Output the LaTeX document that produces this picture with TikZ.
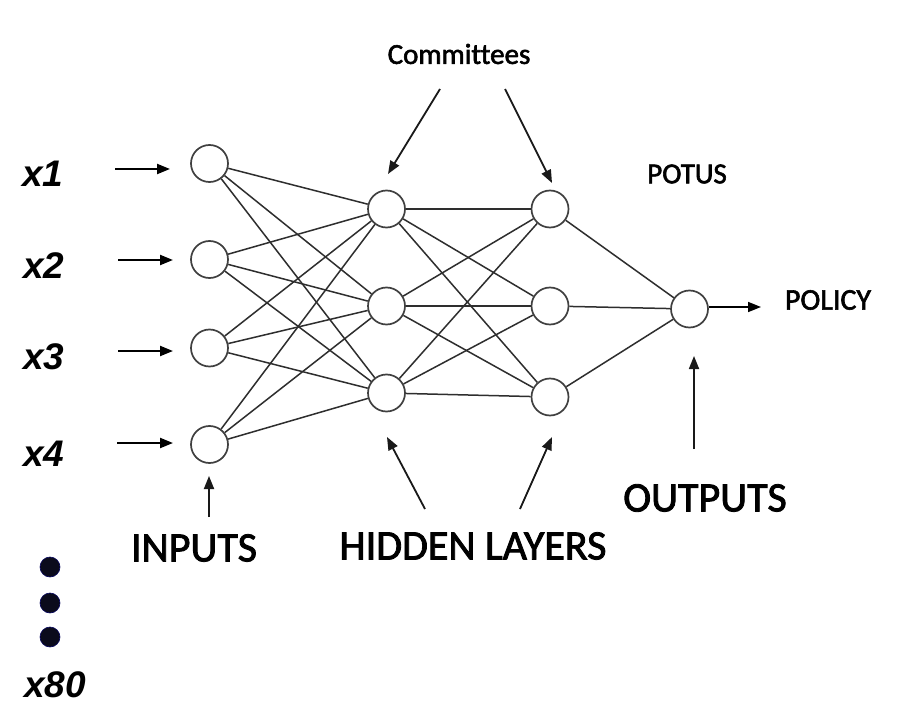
\documentclass[tikz,border=0pt]{standalone}
\usepackage{fontspec}
\setmainfont[Ligatures={NoCommon},FakeBold=2]{Carlito}
\newfontfamily\xfont{Liberation Sans}
\usetikzlibrary{arrows.meta}
\definecolor{dotnavy}{HTML}{0B0B1C}
\begin{document}
\begin{tikzpicture}[x=1pt,y=-1pt,
  neuron/.style={circle,draw=black!75,line width=1.7pt,minimum size=37pt,inner sep=0pt,fill=white},
  edge/.style={draw=black!82,line width=1.5pt},
  pointer/.style={draw=black,line width=2.2pt,-{Triangle[length=13pt,width=10pt]}},
  thinpointer/.style={draw=black!90,line width=1.8pt,-{Triangle[length=13pt,width=10pt]}},
  xlab/.style={font=\xfont\bfseries\itshape\fontsize{37}{44}\selectfont,inner sep=0pt},
  smalllab/.style={font=\fontsize{29}{34}\selectfont,inner sep=0pt},
  biglab/.style={font=\fontsize{42}{50}\selectfont,inner sep=0pt},
  bigdot/.style={circle,fill=dotnavy,draw=dotnavy!70!blue,line width=0.6pt,minimum size=20pt,inner sep=0pt}
]
\useasboundingbox (0,0) rectangle (907,719);
\fill[white] (0,0) rectangle (907,719);

% neurons
\node[neuron] (i1) at (209.5,163.5) {};
\node[neuron] (i2) at (209.5,259.5) {};
\node[neuron] (i3) at (209.5,348) {};
\node[neuron] (i4) at (209.5,444.5) {};
\node[neuron] (h1) at (386.5,209) {};
\node[neuron] (h2) at (386.5,306) {};
\node[neuron] (h3) at (386.5,393) {};
\node[neuron] (g1) at (550,209) {};
\node[neuron] (g2) at (550,306) {};
\node[neuron] (g3) at (550,397) {};
\node[neuron] (o) at (689.5,309) {};

% connections
\foreach \a in {i1,i2,i3,i4}{
  \foreach \b in {h1,h2,h3}{\draw[edge] (\a) -- (\b);}}
\foreach \a in {h1,h2,h3}{
  \foreach \b in {g1,g2,g3}{\draw[edge] (\a) -- (\b);}}
\foreach \a in {g1,g2,g3}{\draw[edge] (\a) -- (o);}

% input labels
\node[xlab] (x1) at (43,174) {x1};
\node[xlab] (x2) at (44,266) {x2};
\node[xlab] (x3) at (44,357) {x3};
\node[xlab] (x4) at (44,454) {x4};
\node[xlab] (x80) at (55,685) {x80};

% input arrows
\coordinate (s1) at (115,169); \coordinate (e1) at (170,169);
\coordinate (s2) at (118,260); \coordinate (e2) at (173,260);
\coordinate (s3) at (118,351); \coordinate (e3) at (173,351);
\coordinate (s4) at (117,443); \coordinate (e4) at (173,443);
\draw[pointer] (s1) -- (e1);
\draw[pointer] (s2) -- (e2);
\draw[pointer] (s3) -- (e3);
\draw[pointer] (s4) -- (e4);

% dots
\node[bigdot] (d1) at (50,567) {};
\node[bigdot] (d2) at (50,603) {};
\node[bigdot] (d3) at (50,637) {};

% labels
\node[smalllab] (comm) at (459,54) {Committees};
\node[smalllab] (potus) at (687,174) {POTUS};
\node[font=\fontsize{30}{36}\selectfont,inner sep=0pt] (policy) at (828,300) {POLICY};
\node[biglab] (inputs) at (194,548) {INPUTS};
\node[biglab] (hidden) at (473,546) {HIDDEN LAYERS};
\node[biglab] (outputs) at (705,498) {OUTPUTS};

% committee arrows
\coordinate (c1s) at (440,89); \coordinate (c1e) at (388,174);
\coordinate (c2s) at (505,89); \coordinate (c2e) at (552,183);
\draw[thinpointer] (c1s) -- (c1e);
\draw[thinpointer] (c2s) -- (c2e);

% hidden-layer arrows
\coordinate (hl1s) at (425,509); \coordinate (hl1e) at (387,437);
\coordinate (hl2s) at (520,509); \coordinate (hl2e) at (552,437);
\draw[thinpointer] (hl1s) -- (hl1e);
\draw[thinpointer] (hl2s) -- (hl2e);

% outputs arrow
\coordinate (os) at (694,449); \coordinate (oe) at (694,356);
\draw[thinpointer] (os) -- (oe);

% inputs arrow
\coordinate (is) at (209,517); \coordinate (ie) at (209,476);
\draw[thinpointer] (is) -- (ie);

% output to policy
\coordinate (pe) at (761,307);
\draw[pointer,line width=1.7pt] (o.east |- pe) -- (pe);
\end{tikzpicture}
\end{document}
